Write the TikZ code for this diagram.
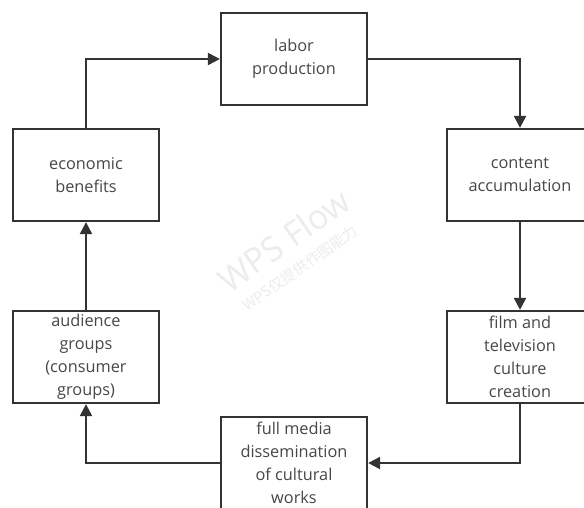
\documentclass[tikz,border=0pt]{standalone}
\usepackage{fontspec}
\setmainfont{Open Sans}
\newfontfamily\cjkfont{Noto Sans CJK SC}
\usetikzlibrary{arrows.meta}
\definecolor{linea}{HTML}{333333}
\definecolor{testo}{HTML}{474747}
\definecolor{filigrana}{HTML}{ECECEC}
\tikzset{
  box/.style={draw=linea, line width=2.3pt, fill=white, minimum width=146pt, minimum height=92pt,
    inner sep=0pt, align=center, text=testo, font=\fontsize{16.3}{23}\selectfont},
  freccia/.style={draw=linea, line width=2.3pt, -{Triangle[length=12pt,width=12pt]}}
}
\begin{document}
\begin{tikzpicture}[x=1pt,y=-1pt]
  \useasboundingbox (0,0) rectangle (584,508);
  % filigrana
  \node[rotate=35, text=filigrana, font=\fontsize{34}{34}\selectfont] (wm) at (284,240) {WPS Flow};
  \node[rotate=35, text=filigrana, font=\cjkfont\fontsize{15}{15}\selectfont] (wm1) at (300,268) {WPS仅提供作图能力};
  % i blocchi
  \node[box] (lab) at (294,59) {labor\\production};
  \node[box] (cont) at (520,175) {content\\accumulation};
  \node[box] (film) at (520,357) {film and\\television\\culture\\creation};
  \node[box] (media) at (294,463) {full media\\dissemination\\of cultural\\works};
  \node[box] (aud) at (86,357) {audience\\groups\\(consumer\\groups)};
  \node[box] (eco) at (86,175) {economic\\benefits};
  % le frecce
  \draw[freccia] (eco.north) |- (lab.west);
  \draw[freccia] (lab.east) -| (cont.north);
  \draw[freccia] (cont.south) -- (film.north);
  \draw[freccia] (film.south) |- (media.east);
  \draw[freccia] (media.west) -| (aud.south);
  \draw[freccia] (aud.north) -- (eco.south);
\end{tikzpicture}
\end{document}
